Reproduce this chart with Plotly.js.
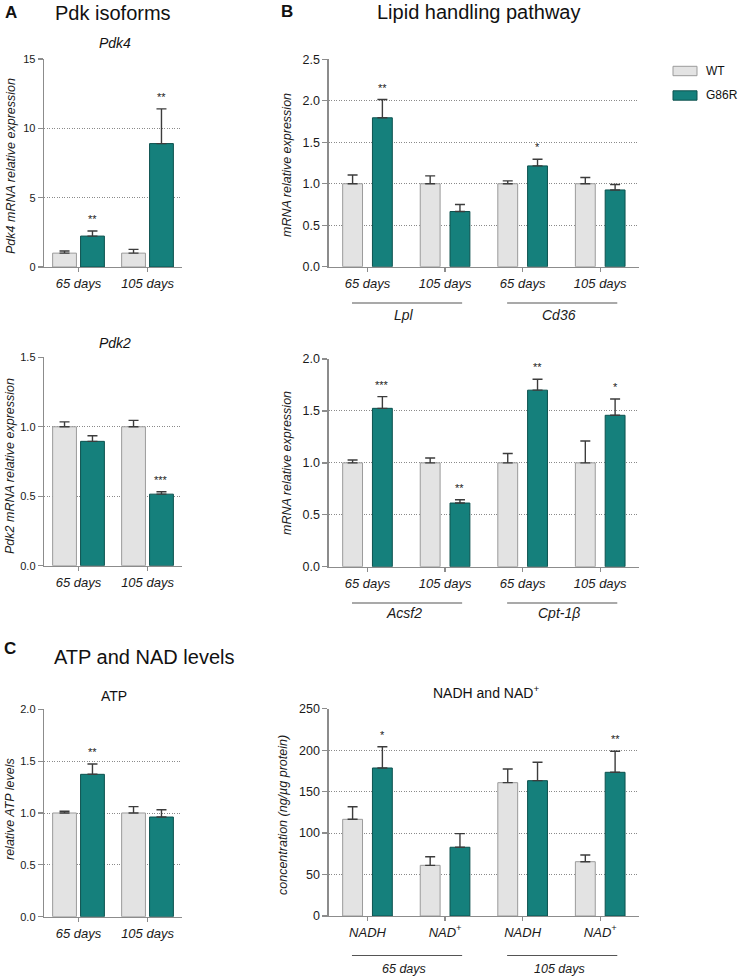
<!DOCTYPE html>
<html>
<head>
<meta charset="utf-8">
<script src="https://cdn.plot.ly/plotly-3.0.1.min.js"></script>
<style>
  html, body { margin: 0; padding: 0; background: #ffffff; }
  #chart { width: 739px; height: 976px; }
</style>
</head>
<body>
<div id="chart"></div>
<script>
// ---------------- DATA ----------------
const seriesNames = ["WT", "G86R"];

// Panel A – Pdk isoforms
const pdkDays = ["65 days", "105 days"];
const pdk4WT = [1.0, 1.0];
const pdk4WTerr = [0.15, 0.27];
const pdk4G86R = [2.23, 8.9];
const pdk4G86Rerr = [0.37, 2.5];
const pdk4Sig = ["**", "**"];

const pdk2WT = [1.0, 1.0];
const pdk2WTerr = [0.035, 0.046];
const pdk2G86R = [0.895, 0.515];
const pdk2G86Rerr = [0.04, 0.017];
const pdk2Sig = ["", "***"];

// Panel B – Lipid handling pathway
const lipidDays = ["65 days", "105 days"];
const lipidGenesTop = ["Lpl", "Cd36"];
const lipidGenesBottom = ["Acsf2", "Cpt-1β"];
const lipTopWT = [1.0, 1.0, 1.0, 1.0];
const lipTopWTerr = [0.105, 0.095, 0.035, 0.075];
const lipTopG86R = [1.795, 0.665, 1.215, 0.925];
const lipTopG86Rerr = [0.22, 0.085, 0.08, 0.065];
const lipTopSig = ["**", "", "*", ""];

const lipBotWT = [1.0, 1.0, 1.0, 1.0];
const lipBotWTerr = [0.028, 0.047, 0.09, 0.21];
const lipBotG86R = [1.525, 0.613, 1.70, 1.458];
const lipBotG86Rerr = [0.113, 0.032, 0.105, 0.157];
const lipBotSig = ["***", "**", "**", "*"];

// Panel C – ATP and NAD levels
const atpDays = ["65 days", "105 days"];
const atpWT = [1.0, 1.0];
const atpWTerr = [0.017, 0.061];
const atpG86R = [1.373, 0.961];
const atpG86Rerr = [0.10, 0.07];
const atpSig = ["**", ""];

const nadAges = ["65 days", "105 days"];
const nadMetabolites = ["NADH", "NAD<sup>+</sup>"];
const nadWT = [116.6, 61.1, 160.8, 65.5];
const nadWTerr = [15.2, 10.4, 16.5, 8.1];
const nadG86R = [178.5, 82.9, 163.2, 173.3];
const nadG86Rerr = [25.7, 16.4, 22.2, 25.4];
const nadSig = ["*", "", "", "**"];

// ---------------- STYLE / LAYOUT HELPERS ----------------
const W = 739, H = 976;
const FONT = "Liberation Sans, Arial, Helvetica, sans-serif";
const WT_FILL = "#e3e3e3", WT_LINE = "#9b9b9b";
const G_FILL = "#15807c", G_LINE = "#0c514e";
const ERR_COL = "#3c3c3c";
const AX_COL = "#8c8c8c";

function xd(a, b) { return [a / W, b / W]; }
function yd(top, bot) { return [1 - bot / H, 1 - top / H]; }
function px(x) { return x / W; }
function py(y) { return 1 - y / H; }

function keys(groups, subs) {
  const out = [];
  groups.forEach(g => subs.forEach(s => out.push(g + "|" + s)));
  return out;
}
function labels(groups, subs) {
  const out = [];
  groups.forEach(() => subs.forEach(s => out.push(s)));
  return out;
}

const panels = [
  { id: "", cats: pdkDays, ticks: pdkDays, wt: pdk4WT, wte: pdk4WTerr, g: pdk4G86R, ge: pdk4G86Rerr, sig: pdk4Sig,
    xdom: [44, 182], ydom: [59, 267], range: [0, 15], dtick: 5, fmt: "d", narrow: true,
    ytitle: "Pdk4 mRNA relative expression", tpos: [11, 166] },
  { id: "2", cats: pdkDays, ticks: pdkDays, wt: pdk2WT, wte: pdk2WTerr, g: pdk2G86R, ge: pdk2G86Rerr, sig: pdk2Sig,
    xdom: [44, 182], ydom: [357.3, 565.7], range: [0, 1.5], dtick: 0.5, fmt: ".1f", narrow: true,
    ytitle: "Pdk2 mRNA relative expression", tpos: [10, 466] },
  { id: "3", cats: keys(lipidGenesTop, lipidDays), ticks: labels(lipidGenesTop, lipidDays), wt: lipTopWT, wte: lipTopWTerr, g: lipTopG86R, ge: lipTopG86Rerr, sig: lipTopSig,
    xdom: [328.7, 639], ydom: [59.3, 266.7], range: [0, 2.5], dtick: 0.5, fmt: ".1f", narrow: false,
    ytitle: "mRNA relative expression", tpos: [287, 165] },
  { id: "4", cats: keys(lipidGenesBottom, lipidDays), ticks: labels(lipidGenesBottom, lipidDays), wt: lipBotWT, wte: lipBotWTerr, g: lipBotG86R, ge: lipBotG86Rerr, sig: lipBotSig,
    xdom: [328.7, 639], ydom: [359, 566.7], range: [0, 2.0], dtick: 0.5, fmt: ".1f", narrow: false,
    ytitle: "mRNA relative expression", tpos: [287, 463] },
  { id: "5", cats: atpDays, ticks: atpDays, wt: atpWT, wte: atpWTerr, g: atpG86R, ge: atpG86Rerr, sig: atpSig,
    xdom: [44, 182], ydom: [709.3, 916.7], range: [0, 2.0], dtick: 0.5, fmt: ".1f", narrow: true,
    ytitle: "relative ATP levels", tpos: [10, 809] },
  { id: "6", cats: keys(nadAges, nadMetabolites), ticks: labels(nadAges, nadMetabolites), wt: nadWT, wte: nadWTerr, g: nadG86R, ge: nadG86Rerr, sig: nadSig,
    xdom: [328.7, 639], ydom: [708.7, 916], range: [0, 250], dtick: 50, fmt: "d", narrow: false,
    ytitle: "concentration (ng/µg protein)", tpos: [283, 815] }
];

const data = [];
const annotations = [];
const shapes = [];
const layout = {
  width: W, height: H,
  margin: { l: 0, r: 0, t: 0, b: 0 },
  paper_bgcolor: "#ffffff", plot_bgcolor: "#ffffff",
  font: { family: FONT, color: "#1a1a1a", size: 11 },
  barmode: "overlay",
  showlegend: false,
  annotations: annotations,
  shapes: shapes
};

panels.forEach(p => {
  const xa = "x" + p.id, ya = "y" + p.id;
  const nCat = p.cats.length;
  const unitPx = (p.xdom[1] - p.xdom[0]) / nCat;
  const geo = p.narrow ? { w: 0.345, offWT: -0.375, offG: 0.03 } : { w: 0.256, offWT: -0.32, offG: 0.064 };
  const tickFs = p.narrow ? 11 : 12.5;

  const zeros = p.wt.map(() => 0);
  data.push({
    type: "bar", name: seriesNames[0], x: p.cats, y: p.wt, xaxis: xa, yaxis: ya,
    width: geo.w, offset: geo.offWT,
    marker: { color: WT_FILL, line: { color: WT_LINE, width: 1 } },
    error_y: { type: "data", symmetric: false, array: p.wte, arrayminus: zeros, color: ERR_COL, thickness: 1.4, width: 5 },
    hoverinfo: "y"
  });
  data.push({
    type: "bar", name: seriesNames[1], x: p.cats, y: p.g, xaxis: xa, yaxis: ya,
    width: geo.w, offset: geo.offG,
    marker: { color: G_FILL, line: { color: G_LINE, width: 1 } },
    error_y: { type: "data", symmetric: false, array: p.ge, arrayminus: zeros, color: ERR_COL, thickness: 1.4, width: 5 },
    hoverinfo: "y"
  });

  const xKey = "xaxis" + p.id, yKey = "yaxis" + p.id;
  layout[xKey] = {
    domain: xd(p.xdom[0], p.xdom[1]), anchor: ya,
    type: "category", range: [-0.5, nCat - 0.5],
    tickvals: p.cats, ticktext: p.ticks,
    tickfont: { family: FONT, size: 13, style: "italic", color: "#1a1a1a" },
    showline: true, linecolor: AX_COL, linewidth: 1.3,
    ticks: "outside", ticklen: 4, tickcolor: AX_COL, tickwidth: 1.3,
    showgrid: false, zeroline: false, fixedrange: true
  };
  layout[yKey] = {
    domain: yd(p.ydom[0], p.ydom[1]), anchor: xa,
    range: p.range, dtick: p.dtick, tick0: 0, tickformat: p.fmt,
    tickfont: { family: FONT, size: tickFs, color: "#1a1a1a" },
    showline: true, linecolor: AX_COL, linewidth: 1.3,
    ticks: "outside", ticklen: 5, tickcolor: AX_COL, tickwidth: 1.3,
    showgrid: true, gridcolor: "#8a8a8a", griddash: "1px,1.5px", gridwidth: 1,
    zeroline: false, fixedrange: true
  };

  // y-axis title, placed precisely as rotated text
  annotations.push({
    xref: "paper", yref: "paper", x: px(p.tpos[0]), y: py(p.tpos[1]),
    xanchor: "center", yanchor: "middle", textangle: -90, showarrow: false,
    text: p.ytitle, font: { family: FONT, size: 12.5, style: "italic", color: "#1a1a1a" }
  });

  const gCenterShift = (geo.offG + geo.w / 2) * unitPx;
  p.sig.forEach((s, i) => {
    if (!s) return;
    annotations.push({
      xref: xa, yref: ya, x: p.cats[i], y: p.g[i] + p.ge[i],
      xshift: gCenterShift, yshift: 12, yanchor: "middle", xanchor: "center",
      text: s, showarrow: false, font: { family: FONT, size: 11, color: "#222" }
    });
  });
});

// ---------- group underlines & labels ----------
function groupLabel(axisId, groups, perGroup, lineY, textY, italic, fs) {
  groups.forEach((g, gi) => {
    const start = gi * perGroup, end = start + perGroup - 1;
    shapes.push({ type: "line", xref: "x" + axisId, yref: "paper",
      x0: start - 0.2, x1: end + 0.22, y0: py(lineY), y1: py(lineY),
      line: { color: "#555", width: 1.1 } });
    annotations.push({ xref: "x" + axisId, yref: "paper", x: (start + end) / 2 - 0.03, y: py(textY),
      yanchor: "middle", xanchor: "center", showarrow: false, text: g,
      font: { family: FONT, size: fs, style: italic ? "italic" : "normal", color: "#1a1a1a" } });
  });
}
groupLabel("3", lipidGenesTop, lipidDays.length, 303, 315, true, 14);
groupLabel("4", lipidGenesBottom, lipidDays.length, 603, 613, true, 14);
groupLabel("6", nadAges, nadMetabolites.length, 955.5, 969, true, 12.5);

// ---------- panel letters, titles, subtitles ----------
function txt(x, y, t, fs, opts) {
  opts = opts || {};
  annotations.push({ xref: "paper", yref: "paper", x: px(x), y: py(y), xanchor: opts.anchor || "center", yanchor: "middle",
    showarrow: false, text: t, font: { family: FONT, size: fs, color: "#111", weight: opts.bold ? "bold" : "normal", style: opts.italic ? "italic" : "normal" } });
}
txt(3, 13, "A", 17, { bold: true, anchor: "left" });
txt(113, 13, "Pdk isoforms", 20);
txt(279, 12, "B", 17, { bold: true, anchor: "left" });
txt(479, 12, "Lipid handling pathway", 20);
txt(2, 648, "C", 17, { bold: true, anchor: "left" });
txt(144, 657, "ATP and NAD levels", 20);
txt(115, 43, "Pdk4", 14, { italic: true });
txt(115, 343, "Pdk2", 14, { italic: true });
txt(114, 696, "ATP", 14);
txt(486, 692, "NADH and NAD<sup>+</sup>", 14);

// ---------- legend ----------
const legendItems = [
  { name: seriesNames[0], fill: WT_FILL, line: WT_LINE, y: 71 },
  { name: seriesNames[1], fill: G_FILL, line: G_LINE, y: 95.5 }
];
legendItems.forEach(it => {
  shapes.push({ type: "rect", xref: "paper", yref: "paper",
    x0: px(673), x1: px(697), y0: py(it.y + 4.7), y1: py(it.y - 4.7),
    fillcolor: it.fill, line: { color: it.line, width: 1 } });
  txt(704, it.y, it.name, 12, { anchor: "left" });
});

Plotly.newPlot("chart", data, layout, { staticPlot: true, displayModeBar: false });
</script>
</body>
</html>
